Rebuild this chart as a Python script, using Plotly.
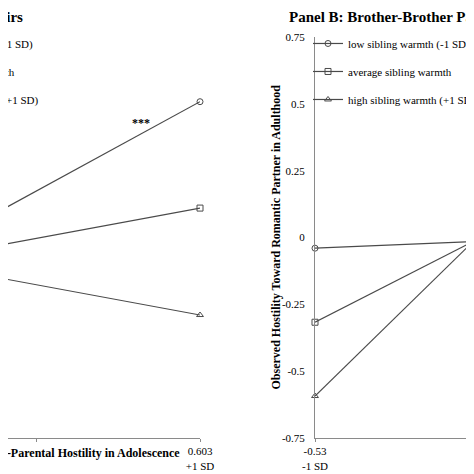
import plotly.graph_objects as go

# ── data ─────────────────────────────────────────────────────────────────────
x_points = [-0.53, 0.603]                 # -1 SD / +1 SD of inter-parental hostility
x_mid = 0.0365                            # mean (unlabelled middle tick)
series_names = ["low sibling warmth (-1 SD)",
                "average sibling warmth",
                "high sibling warmth (+1 SD)"]
symbols = ["circle-open", "square-open", "triangle-up-open"]

# Panel A (only right half visible)
panel_a_low = [-0.162, 0.508]
panel_a_avg = [-0.117, 0.110]
panel_a_high = [-0.063, -0.290]

# Panel B: Brother-Brother pairs (only left half visible)
panel_b_low = [-0.040, 0.012]
panel_b_avg = [-0.317, 0.310]
panel_b_high = [-0.593, 0.606]

y_ticks = [-0.75, -0.5, -0.25, 0, 0.25, 0.5, 0.75]
y_tick_text = ["-0.75", "-0.5", "-0.25", "0", "0.25", "0.5", "0.75"]

FONT = "Liberation Serif, Times New Roman, serif"
LINE = "#4a4a4a"
AXIS = "#8a8a8a"
W = 474
OFF = 8               # page body margin: figure starts 8px in from the window corner
PX_PER_UNIT = 289.5   # horizontal scale shared by both panels


def px(sx):
    # window pixel -> paper fraction
    return (sx - OFF) / W


fig = go.Figure()

panels = [("x", "y", "legend", [panel_a_low, panel_a_avg, panel_a_high]),
          ("x2", "y2", "legend2", [panel_b_low, panel_b_avg, panel_b_high])]
for xa, ya, leg, vals in panels:
    for name, sym, v in zip(series_names, symbols, vals):
        fig.add_trace(go.Scatter(
            x=x_points, y=v, xaxis=xa, yaxis=ya,
            mode="lines+markers", name=name, legend=leg,
            legendgroup=leg + name,
            line=dict(color=LINE, width=1.2),
            marker=dict(symbol=sym, size=6, color=LINE, line=dict(width=1)),
            cliponaxis=False, hoverinfo="skip"
        ))

# panel A axis: right end (0.603) sits at window px 200, left part cut off
a_right = 200
a_range = [0.603 - (a_right - OFF) / PX_PER_UNIT, 0.603]
# panel B axis: starts at window px 315 and runs past the right edge
b_left = 315
b_range = [-0.53, -0.53 + (W + OFF - b_left) / PX_PER_UNIT]

xaxis_common = dict(showgrid=False, zeroline=False, showline=True, linecolor=AXIS,
                    linewidth=1, ticks="outside", ticklen=3, tickcolor=AXIS,
                    tickfont=dict(family=FONT, size=11, color="black"))
fig.update_layout(
    xaxis=dict(domain=[0, px(a_right)], range=a_range,
               tickvals=[x_mid, 0.603], ticktext=["", "0.603<br>+1 SD"],
               anchor="y", **xaxis_common),
    xaxis2=dict(domain=[px(b_left), 1], range=b_range,
                tickvals=[-0.53, x_mid], ticktext=["-0.53<br>-1 SD", ""],
                anchor="y2", **xaxis_common),
    yaxis=dict(range=[-0.75, 0.75], visible=False, anchor="x"),
    yaxis2=dict(range=[-0.75, 0.75], anchor="x2", showgrid=False, zeroline=False,
                showline=True, linecolor=AXIS, linewidth=1, ticks="",
                tickvals=y_ticks, ticktext=y_tick_text, ticklabelstandoff=7,
                tickfont=dict(family=FONT, size=11, color="black")),
)

legend_common = dict(font=dict(family=FONT, size=11, color="black"),
                     bgcolor="rgba(0,0,0,0)", itemwidth=30, tracegroupgap=9,
                     xanchor="left", yanchor="top", y=1.02, itemclick=False)
fig.update_layout(
    legend=dict(x=px(314 - 443), **legend_common),
    legend2=dict(x=px(308), **legend_common),
)

# titles, axis titles and significance mark
fig.add_annotation(text="<b>Panel B: Brother-Brother Pairs</b>", xref="paper", yref="paper",
                   x=px(287), y=1.05, xanchor="left", yanchor="middle", showarrow=False,
                   font=dict(family=FONT, size=15, color="black"))
fig.add_annotation(text="<b>Panel A: Sister-Sister Pairs</b>", xref="paper", yref="paper",
                   x=px(25), y=1.05, xanchor="right", yanchor="middle", showarrow=False,
                   font=dict(family=FONT, size=15, color="black"))
for xr in ["x", "x2"]:
    fig.add_annotation(text="<b>Observed Inter-Parental Hostility in Adolescence</b>",
                       xref=xr, yref="paper", x=0.099, y=-0.037, xanchor="center",
                       yanchor="middle", showarrow=False,
                       font=dict(family=FONT, size=12, color="black"))
fig.add_annotation(text="<b>Observed Hostility Toward Romantic Partner in Adulthood</b>",
                   xref="paper", yref="paper", x=px(275), y=0.5, textangle=-90,
                   xanchor="center", yanchor="middle", showarrow=False,
                   font=dict(family=FONT, size=12, color="black"))
fig.add_annotation(text="<b>***</b>", xref="x", yref="y", x=0.399, y=0.43,
                   showarrow=False, font=dict(family=FONT, size=12, color="black"))

fig.update_layout(
    width=W, height=W,
    margin=dict(l=0, r=0, t=37 - OFF, b=36 + OFF, autoexpand=False),
    paper_bgcolor="white", plot_bgcolor="white",
    showlegend=True,
)

fig.write_html("out.html")
